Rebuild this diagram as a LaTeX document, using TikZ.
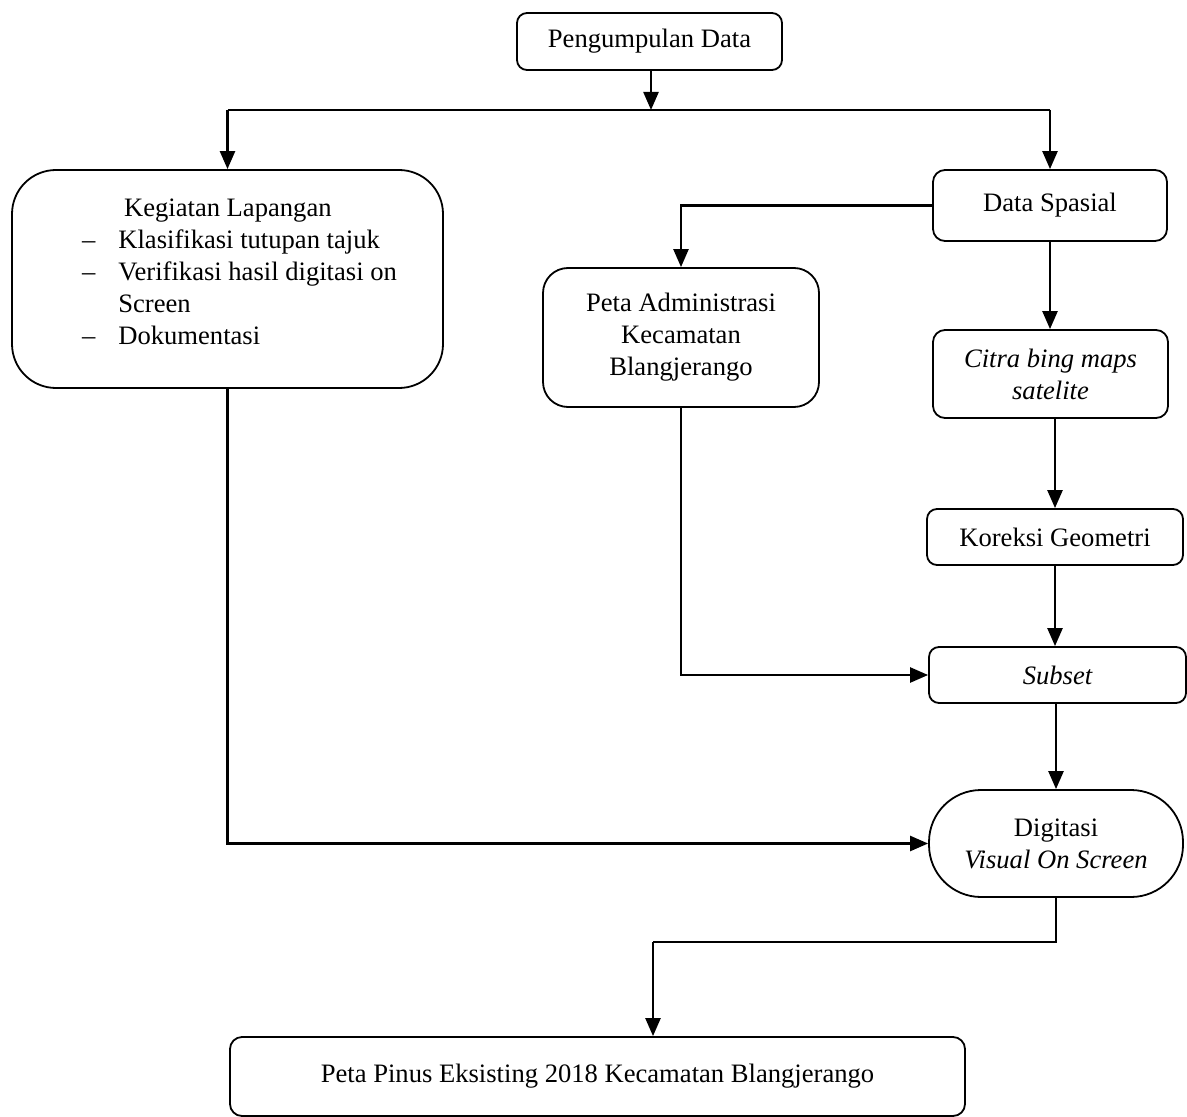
\documentclass[tikz,border=0pt]{standalone}
\usepackage{fontspec}
\setmainfont{Liberation Serif}
\usetikzlibrary{positioning, calc, arrows.meta}

\begin{document}
\begin{tikzpicture}[x=0.5pt, y=-0.5pt,
  font=\fontsize{13.3}{16}\selectfont,
  box/.style={draw, line width=0.9pt, rounded corners=6pt, align=center, inner sep=0pt},
  arr/.style={-{Triangle[length=9pt, width=7.5pt]}, line width=1.2pt},
  conn/.style={line width=1.2pt}]

\useasboundingbox (0, 0) rectangle (1187, 1117);

\node [box, rounded corners=5pt, minimum width=132.5pt, minimum height=28.5pt] (pd) at (649.5, 41.5) {Pengumpulan Data};

\node [box, rounded corners=22pt, minimum width=215.5pt, minimum height=109pt] (keg) at (227.5, 279)
  {\begin{tabular}{@{\hspace{12pt}}l@{\hspace{11.5pt}}l@{}}
   \multicolumn{2}{@{\hspace{12pt}}l@{}}{\hspace*{21pt}Kegiatan Lapangan}\\
   -- & Klasifikasi tutupan tajuk\\
   -- & Verifikasi hasil digitasi on\\
      & Screen\\
   -- & Dokumentasi\\[5pt]
   \end{tabular}};

\node [box, minimum width=117pt, minimum height=35.5pt] (ds) at (1050, 205.5) {Data Spasial};
\node [box, rounded corners=12.5pt, minimum width=138pt, minimum height=69.5pt] (pa) at (681, 337.5) {Peta Administrasi\\Kecamatan\\Blangjerango};
\node [box, minimum width=117.5pt, minimum height=44pt] (ca) at (1050.5, 374) {\itshape Citra bing maps\\\itshape satelite};
\node [box, rounded corners=5pt, minimum width=128pt, minimum height=28pt] (kg) at (1055, 537) {Koreksi Geometri};
\node [box, rounded corners=5pt, minimum width=128.5pt, minimum height=28pt] (sb) at (1057.5, 675) {\itshape Subset};
\node [box, rounded corners=26pt, minimum width=127pt, minimum height=53.5pt] (dg) at (1056, 843.5) {Digitasi\\\itshape Visual On Screen};
\node [box, minimum width=367.5pt, minimum height=39.5pt] (pp) at (597.5, 1076.5) {Peta Pinus Eksisting 2018 Kecamatan Blangjerango};

\coordinate (split) at (651, 110);
\coordinate (bend) at (653, 942);

\draw [arr] (pd.south -| split) -- (split);
\draw [conn] (split -| keg.north) -- (split -| ds.north);
\draw [arr] (split -| keg.north) -- (keg.north);
\draw [arr] (split -| ds.north) -- (ds.north);

\draw [arr] (ds.west) -| (pa.north);
\draw [arr] (ds.south) -- (ds.south |- ca.north);
\draw [arr] (kg.north |- ca.south) -- (kg.north);
\draw [arr] (kg.south) -- (kg.south |- sb.north);
\draw [arr] (dg.north |- sb.south) -- (dg.north);

\draw [arr] (pa.south) |- (sb.west);
\draw [arr] (keg.south) |- (dg.west);

\draw [conn] (dg.south) |- (bend);
\draw [arr] (bend) -- (bend |- pp.north);

\end{tikzpicture}
\end{document}
